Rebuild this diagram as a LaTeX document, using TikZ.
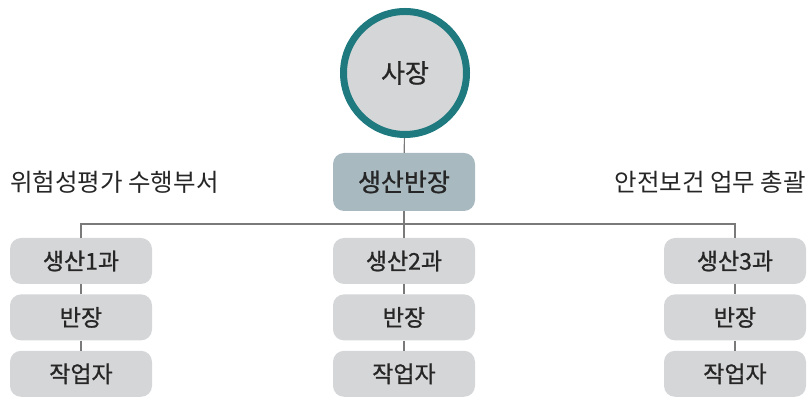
\documentclass[tikz,border=0pt]{standalone}
\usepackage{fontspec}
\setmainfont{Noto Sans CJK KR}[BoldFont=Noto Sans CJK KR, BoldFeatures={FakeBold=0.9}]
\usetikzlibrary{positioning}
\definecolor{ringteal}{HTML}{1F7A80}
\definecolor{boxgray}{HTML}{D5D6D8}
\definecolor{headblue}{HTML}{A8BAC0}
\definecolor{linegray}{HTML}{7A7A7A}
\tikzset{
unit/.style={shape=rectangle, rounded corners=11pt, minimum width=142pt, minimum height=46pt, inner sep=0, fill=boxgray, text=black!85, font=\fontsize{23}{27}\selectfont\bfseries}, head/.style={unit, fill=headblue, minimum height=58pt, font=\fontsize{25}{29}\selectfont\bfseries}, chief/.style={shape=circle, minimum size=123pt, inner sep=0, draw=ringteal, line width=7pt, fill=boxgray, text=black!85, font=\fontsize{26}{30}\selectfont\bfseries}, link/.style={draw=linegray, line width=1.2pt}, remark/.style={inner sep=0, text=black!85, font=\fontsize{24.5}{28}\selectfont}}

\begin{document}
\begin{tikzpicture}[x=1pt, y=1pt]
\useasboundingbox (0,0) rectangle (811,398);
\node [chief] at (405, 325) (ceo) {사장};
\node [head] at (404, 216) (mgr) {생산반장};
\coordinate (bus) at (404, 174);
\draw [link] (ceo) -- (mgr);
\draw [link] (mgr) -- (bus);
\foreach \cx [count=\c] in {81, 404, 735}{
      \node [unit] at (\cx, 137) (team-\c) {생산\c{}과};
      \node [unit, below=10pt of team-\c] (lead-\c) {반장};
      \node [unit, below=10pt of lead-\c] (crew-\c) {작업자};
      \draw [link] (team-\c.north) |- (bus);
      \draw [link] (team-\c) -- (lead-\c);
      \draw [link] (lead-\c) -- (crew-\c);
}
\node [remark, anchor=west] at (10, 216) (riskdept) {위험성평가 수행부서};
\node [remark, anchor=east] at (806, 216) (safetyhq) {안전보건 업무 총괄};
\end{tikzpicture}
\end{document}
